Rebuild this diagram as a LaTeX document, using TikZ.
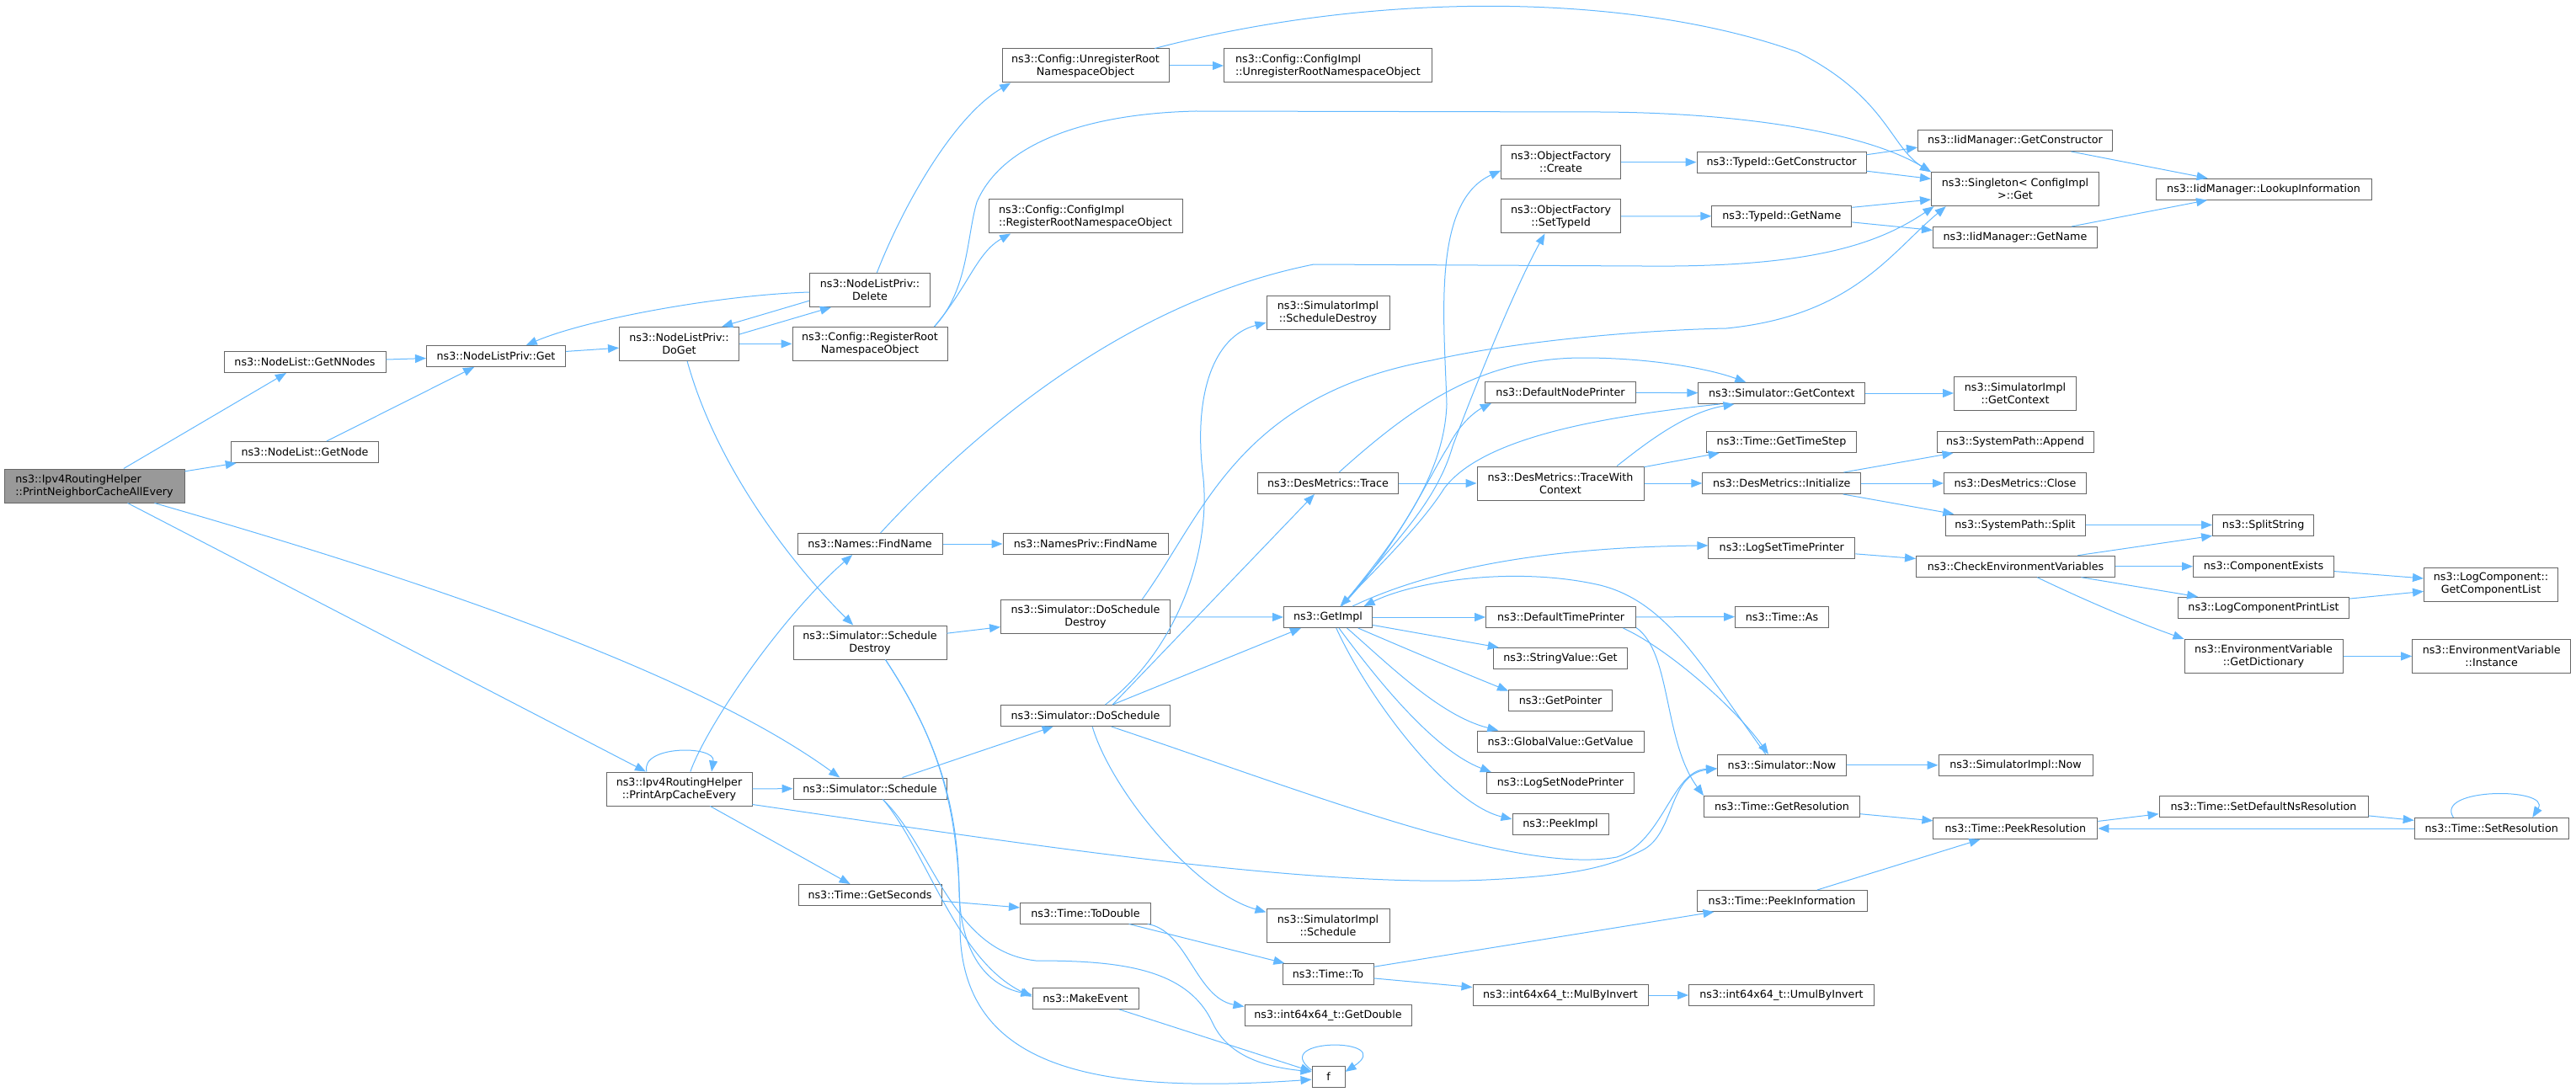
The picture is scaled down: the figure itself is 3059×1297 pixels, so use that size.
\documentclass[tikz,border=0pt]{standalone}
\usepackage{fontspec}
\usepackage{xcolor}
\usepackage{tikz}
\usetikzlibrary{arrows.meta}
\newfontfamily\fnfont{DejaVu Sans}
\definecolor{edgeblue}{HTML}{63B8FF}
\definecolor{boxgray}{HTML}{666666}
\definecolor{rootgray}{HTML}{999999}

\begin{document}
\begin{tikzpicture}[x=1pt, y=-1pt,
    fn/.style={draw=boxgray, line width=1pt, fill=white, inner sep=0pt, minimum height=25pt,
      align=center, font=\fnfont\fontsize{12.7}{15}\selectfont},
    fntwo/.style={fn, minimum height=40pt},
    root/.style={fntwo, fill=rootgray, align=left},
    call/.style={draw=edgeblue, line width=1pt, -{Triangle[length=13pt,width=10pt]}}]
    \useasboundingbox (0,0) rectangle (3059,1297);

    % Nodes
    \node[root, minimum width=214pt] (main) at (112,577) {ns3::Ipv4RoutingHelper\\::PrintNeighborCacheAllEvery};
    \node[fn, minimum width=192pt] (getnnodes) at (362,430) {ns3::NodeList::GetNNodes};
    \node[fn, minimum width=175pt] (getnode) at (362,537) {ns3::NodeList::GetNode};
    \node[fn, minimum width=165pt] (nlget) at (589,423) {ns3::NodeListPriv::Get};
    \node[fntwo, minimum width=142pt] (doget) at (806.5,408.4) {ns3::NodeListPriv::\\DoGet};
    \node[fntwo, minimum width=173pt] (printarp) at (806.5,937) {ns3::Ipv4RoutingHelper\\::PrintArpCacheEvery};

    \node[fntwo, minimum width=143pt] (nldelete) at (1033,344.5) {ns3::NodeListPriv::\\Delete};
    \node[fntwo, minimum width=184pt] (cfgreg) at (1033,408.4) {ns3::Config::RegisterRoot\\NamespaceObject};
    \node[fn, minimum width=172pt] (namesfind) at (1033,646) {ns3::Names::FindName};
    \node[fntwo, minimum width=182pt] (simsd) at (1033,763) {ns3::Simulator::Schedule\\Destroy};
    \node[fn, minimum width=182pt] (simsched) at (1033,936.5) {ns3::Simulator::Schedule};
    \node[fn, minimum width=170pt] (getsec) at (1033,1063) {ns3::Time::GetSeconds};

    \node[fntwo, minimum width=198pt] (cfgunreg) at (1289,78) {ns3::Config::UnregisterRoot\\NamespaceObject};
    \node[fntwo, minimum width=230pt, align=left] (implreg) at (1289,257) {ns3::Config::ConfigImpl\\::RegisterRootNamespaceObject};
    \node[fn, minimum width=196pt] (privfind) at (1289,646) {ns3::NamesPriv::FindName};
    \node[fntwo, minimum width=201pt] (dosd) at (1289,732.7) {ns3::Simulator::DoSchedule\\Destroy};
    \node[fn, minimum width=201pt] (dosched) at (1289,850) {ns3::Simulator::DoSchedule};
    \node[fn, minimum width=155pt] (todouble) at (1289,1084.5) {ns3::Time::ToDouble};
    \node[fn, minimum width=126pt] (mkevent) at (1289,1186) {ns3::MakeEvent};

    \node[fntwo, minimum width=247pt, align=left] (implunreg) at (1577,78) {ns3::Config::ConfigImpl\\::UnregisterRootNamespaceObject};
    \node[fntwo, minimum width=146pt] (impsd) at (1577,371.5) {ns3::SimulatorImpl\\::ScheduleDestroy};
    \node[fn, minimum width=167pt] (trace) at (1577,574) {ns3::DesMetrics::Trace};
    \node[fn, minimum width=105pt] (getimpl) at (1577,733) {ns3::GetImpl};
    \node[fntwo, minimum width=146pt] (impsched) at (1577,1099) {ns3::SimulatorImpl\\::Schedule};
    \node[fn, minimum width=108pt] (timeto) at (1577,1157) {ns3::Time::To};
    \node[fn, minimum width=198pt] (getdouble) at (1577,1206) {ns3::int64x64\_t::GetDouble};
    \node[fn, minimum width=39pt] (fcall) at (1577.5,1279) {f};

    \node[fntwo, minimum width=142pt] (ofcreate) at (1853.6,192.6) {ns3::ObjectFactory\\::Create};
    \node[fntwo, minimum width=142pt] (ofsettype) at (1853.6,257) {ns3::ObjectFactory\\::SetTypeId};
    \node[fn, minimum width=179pt] (defnode) at (1853,466) {ns3::DefaultNodePrinter};
    \node[fntwo, minimum width=198pt] (tracectx) at (1853,574) {ns3::DesMetrics::TraceWith\\Context};
    \node[fn, minimum width=178pt] (deftime) at (1853.6,733) {ns3::DefaultTimePrinter};
    \node[fn, minimum width=159pt] (strget) at (1853,782) {ns3::StringValue::Get};
    \node[fn, minimum width=123pt] (getptr) at (1853,831.5) {ns3::GetPointer};
    \node[fn, minimum width=198pt] (gvget) at (1853,880.6) {ns3::GlobalValue::GetValue};
    \node[fn, minimum width=175pt] (lognode) at (1853,930) {ns3::LogSetNodePrinter};
    \node[fn, minimum width=114pt] (peekimpl) at (1853,979) {ns3::PeekImpl};
    \node[fn, minimum width=208pt] (mulinv) at (1853,1182) {ns3::int64x64\_t::MulByInvert};

    \node[fn, minimum width=201pt] (tidctor) at (2115.5,192.6) {ns3::TypeId::GetConstructor};
    \node[fn, minimum width=166pt] (tidname) at (2115.8,256.6) {ns3::TypeId::GetName};
    \node[fn, minimum width=198pt] (simctx) at (2115.8,467) {ns3::Simulator::GetContext};
    \node[fn, minimum width=178pt] (timestep) at (2115.5,525) {ns3::Time::GetTimeStep};
    \node[fn, minimum width=188pt] (desinit) at (2115.8,574) {ns3::DesMetrics::Initialize};
    \node[fn, minimum width=174pt] (logtime) at (2115.8,651) {ns3::LogSetTimePrinter};
    \node[fn, minimum width=111pt] (timeas) at (2116,732.5) {ns3::Time::As};
    \node[fn, minimum width=153pt] (simnow) at (2116,908.8) {ns3::Simulator::Now};
    \node[fn, minimum width=185pt] (getres) at (2116,958) {ns3::Time::GetResolution};
    \node[fn, minimum width=202pt] (peekinfo) at (2116,1070) {ns3::Time::PeekInformation};
    \node[fn, minimum width=220pt] (umulinv) at (2115.5,1182) {ns3::int64x64\_t::UmulByInvert};

    \node[fn, minimum width=231pt] (iidctor) at (2393,167) {ns3::IidManager::GetConstructor};
    \node[fntwo, minimum width=199pt] (singleton) at (2393,224.7) {ns3::Singleton\textless{} ConfigImpl\\\textgreater{}::Get};
    \node[fn, minimum width=195pt] (iidname) at (2393,282) {ns3::IidManager::GetName};
    \node[fntwo, minimum width=145pt] (impctx) at (2393,467) {ns3::SimulatorImpl\\::GetContext};
    \node[fn, minimum width=186pt] (spappend) at (2393,525) {ns3::SystemPath::Append};
    \node[fn, minimum width=169pt] (desclose) at (2393,574) {ns3::DesMetrics::Close};
    \node[fn, minimum width=166pt] (spsplit) at (2393,623.5) {ns3::SystemPath::Split};
    \node[fn, minimum width=236pt] (checkenv) at (2393.5,672.7) {ns3::CheckEnvironmentVariables};
    \node[fn, minimum width=183pt] (impnow) at (2393.5,908.8) {ns3::SimulatorImpl::Now};
    \node[fn, minimum width=195pt] (peekres) at (2393.4,984) {ns3::Time::PeekResolution};

    \node[fn, minimum width=256pt] (lookup) at (2688,224.7) {ns3::IidManager::LookupInformation};
    \node[fn, minimum width=120pt] (splitstr) at (2687.6,623.5) {ns3::SplitString};
    \node[fn, minimum width=167pt] (compexists) at (2688,672.7) {ns3::ComponentExists};
    \node[fn, minimum width=203pt] (compprint) at (2688,721.8) {ns3::LogComponentPrintList};
    \node[fntwo, minimum width=188pt] (envdict) at (2688,779.4) {ns3::EnvironmentVariable\\::GetDictionary};
    \node[fn, minimum width=248pt] (setdefns) at (2688,958) {ns3::Time::SetDefaultNsResolution};

    \node[fntwo, minimum width=159pt] (complist) at (2958,694) {ns3::LogComponent::\\GetComponentList};
    \node[fntwo, minimum width=188pt] (envinst) at (2958.7,779.4) {ns3::EnvironmentVariable\\::Instance};
    \node[fn, minimum width=183pt] (setres) at (2958.7,984) {ns3::Time::SetResolution};

    % Arrows
    \draw[call] (main) -- (getnnodes);
    \draw[call] (main) -- (getnode);
    \draw[call] (main) -- (printarp);
    \draw[call] (main.-16) .. controls (400,660) and (800,780) .. (simsched.160);
    \draw[call] (getnnodes) -- (nlget);
    \draw[call] (getnode) -- (nlget);
    \draw[call] (nlget) -- (doget);
    \draw[call] (doget.9) -- (nldelete.204);
    \draw[call] (nldelete.190) -- (doget.22);
    \draw[call] (nldelete.182) .. controls (860,350) and (700,378) .. (nlget.20);
    \draw[call] (doget) -- (cfgreg);
    \draw[call] (doget.-65) .. controls (855,570) and (960,690) .. (simsd.134);
    \draw[call] (nldelete.68) .. controls (1070,250) and (1130,140) .. (cfgunreg.193);
    \draw[call] (cfgunreg) -- (implunreg);
    \draw[call] (cfgunreg.14) .. controls (1650,-15) and (1950,-5) .. (2135,62)
        .. controls (2240,115) and (2245,175) .. (singleton.north west);
    \draw[call] (cfgreg.15) .. controls (1150,340) and (1160,300) .. (implreg.193);
    \draw[call] (cfgreg.15) .. controls (1150,345) and (1148,280) .. (1160,240)
        .. controls (1190,170) and (1290,135) .. (1420,132) -- (1900,133)
        .. controls (2080,134) and (2220,160) .. (singleton.north west);
    \draw[call] (namesfind) -- (privfind);
    \draw[call] (namesfind.46) .. controls (1150,520) and (1330,360) .. (1560,314) -- (1950,316)
        .. controls (2150,318) and (2230,290) .. (singleton.192);

    \draw[call] (printarp.152) .. controls (760,885) and (850,885) .. (printarp.28);
    \draw[call] (printarp) -- (simsched);
    \draw[call] (printarp) -- (getsec);
    \draw[call] (printarp.57) .. controls (840,860) and (930,730) .. (namesfind.212);
    \draw[call] (printarp.-12) .. controls (1200,1000) and (1550,1055) .. (1765,1045)
        .. controls (1870,1040) and (1910,1030) .. (1950,1010)
        .. controls (1990,990) and (1980,920) .. (simnow.183);

    \draw[call] (simsd) -- (dosd);
    \draw[call] (simsd.-48) .. controls (1115,880) and (1138,960) .. (1139,1060)
        .. controls (1141,1130) and (1170,1170) .. (mkevent.176);
    \draw[call] (simsd.-48) .. controls (1115,880) and (1140,960) .. (1140,1100)
        .. controls (1140,1270) and (1300,1300) .. (fcall.189);
    \draw[call] (simsched) -- (dosched);
    \draw[call] (simsched.-40) .. controls (1100,1010) and (1135,1140) .. (mkevent.178);
    \draw[call] (simsched.-40) .. controls (1110,1010) and (1130,1130) .. (1230,1141)
        .. controls (1330,1141) and (1410,1150) .. (1440,1215)
        .. controls (1460,1258) and (1510,1268) .. (fcall.163);
    \draw[call] (mkevent) -- (fcall);
    \draw[call] (fcall.158) .. controls (1505,1232) and (1660,1232) .. (fcall.17);

    \draw[call] (getsec) -- (todouble);
    \draw[call] (todouble) -- (timeto);
    \draw[call] (todouble.-10) .. controls (1410,1105) and (1420,1185) .. (getdouble.174);
    \draw[call] (timeto) -- (peekinfo);
    \draw[call] (timeto) -- (mulinv);
    \draw[call] (mulinv) -- (umulinv);
    \draw[call] (peekinfo) -- (peekres);

    \draw[call] (dosd) -- (getimpl);
    \draw[call] (dosd.17) .. controls (1430,610) and (1470,470) .. (1700,428)
        .. controls (1800,405) and (1950,392) .. (2050,390)
        .. controls (2200,375) and (2245,300) .. (singleton.194);
    \draw[call] (dosched) -- (getimpl);
    \draw[call] (dosched.22) -- (trace.219);
    \draw[call] (dosched.29) .. controls (1400,770) and (1440,650) .. (1428,560)
        .. controls (1418,470) and (1440,400) .. (impsd.189);
    \draw[call] (dosched.-58) .. controls (1320,940) and (1420,1060) .. (impsched.168);
    \draw[call] (dosched.-23) .. controls (1550,940) and (1800,1040) .. (1920,1018)
        .. controls (1975,1000) and (1985,915) .. (simnow.183);

    \draw[call] (getimpl.39) .. controls (1650,650) and (1715,570) .. (1718,480)
        .. controls (1715,380) and (1700,240) .. (ofcreate.188);
    \draw[call] (getimpl.39) .. controls (1650,650) and (1705,600) .. (1725,530)
        .. controls (1755,450) and (1800,340) .. (ofsettype.227);
    \draw[call] (getimpl.39) .. controls (1660,650) and (1700,560) .. (1720,530)
        .. controls (1735,500) and (1755,487) .. (defnode.189);
    \draw[call] (simctx.190) .. controls (1900,495) and (1760,520) .. (1715,580)
        .. controls (1690,620) and (1640,670) .. (getimpl.42);
    \draw[call] (getimpl) -- (deftime);
    \draw[call] (getimpl) -- (strget);
    \draw[call] (getimpl.-20) .. controls (1680,775) and (1740,800) .. (getptr.170);
    \draw[call] (getimpl.-30) .. controls (1650,790) and (1710,850) .. (gvget.170);
    \draw[call] (getimpl.-45) .. controls (1630,800) and (1700,890) .. (lognode.171);
    \draw[call] (getimpl.-53) .. controls (1625,830) and (1720,955) .. (peekimpl.174);
    \draw[call] (getimpl.24) .. controls (1690,680) and (1820,650) .. (logtime.178);
    \draw[call] (simnow.146) .. controls (2020,790) and (1980,715) .. (1900,695)
        .. controls (1800,672) and (1680,690) .. (getimpl.17);

    \draw[call] (deftime) -- (timeas);
    \draw[call] (deftime.-10) .. controls (1980,770) and (2060,840) .. (simnow.141);
    \draw[call] (deftime.-8) .. controls (1985,775) and (1975,880) .. (getres.north west);
    \draw[call] (getres) -- (peekres);
    \draw[call] (peekres.5) -- (setdefns.184);
    \draw[call] (setdefns.-5) -- (setres.174);
    \draw[call] (setres) -- (peekres);
    \draw[call] (setres.164) .. controls (2890,935) and (3030,935) .. (setres.15);
    \draw[call] (simnow) -- (impnow);

    \draw[call] (ofcreate) -- (tidctor);
    \draw[call] (ofsettype) -- (tidname);
    \draw[call] (tidctor.5) -- (iidctor.184);
    \draw[call] (tidctor.-6) -- (singleton.173);
    \draw[call] (tidname.7) -- (singleton.187);
    \draw[call] (tidname.-5) -- (iidname.175);
    \draw[call] (iidctor) -- (lookup);
    \draw[call] (iidname) -- (lookup);

    \draw[call] (trace) -- (tracectx);
    \draw[call] (trace.45) .. controls (1680,480) and (1760,425) .. (1880,425)
        .. controls (1960,425) and (2030,438) .. (simctx.163);
    \draw[call] (tracectx.17) .. controls (1950,530) and (2000,490) .. (simctx.193);
    \draw[call] (tracectx.11) -- (timestep.190);
    \draw[call] (tracectx) -- (desinit);
    \draw[call] (defnode) -- (simctx);
    \draw[call] (simctx) -- (impctx);
    \draw[call] (desinit) -- (spappend);
    \draw[call] (desinit) -- (desclose);
    \draw[call] (desinit) -- (spsplit);
    \draw[call] (spsplit) -- (splitstr);
    \draw[call] (logtime) -- (checkenv);
    \draw[call] (checkenv.10) -- (splitstr.192);
    \draw[call] (checkenv) -- (compexists);
    \draw[call] (checkenv) -- (compprint);
    \draw[call] (checkenv.-27) .. controls (2480,715) and (2540,740) .. (envdict.north west);
    \draw[call] (compexists.-4) -- (complist.175);
    \draw[call] (compprint.6) -- (complist.186);
    \draw[call] (envdict) -- (envinst);
\end{tikzpicture}
\end{document}
